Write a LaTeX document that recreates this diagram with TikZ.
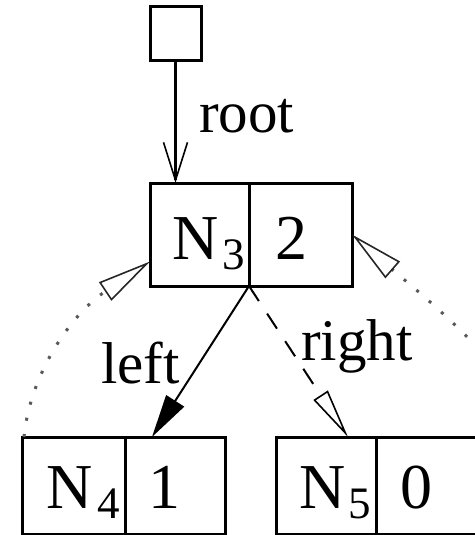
\documentclass[tikz,border=0pt]{standalone}
\usepackage{fontspec}
\setmainfont{Liberation Serif}
\usetikzlibrary{arrows.meta}
\tikzset{
  cell/.style={draw, line width=3pt, inner sep=0pt, outer sep=0pt, minimum height=97pt},
  big/.style={inner sep=0pt, anchor=base west, font=\fontsize{64}{70}\selectfont},
  lab/.style={inner sep=0pt, anchor=base west, font=\fontsize{59}{66}\selectfont},
  sub/.style={inner sep=0pt, anchor=base west, font=\fontsize{45}{50}\selectfont},
  dots/.style={line width=3pt, dash pattern=on 3pt off 13.5pt, black!65},
  opentip/.style={-{Triangle[open, length=54pt, width=22pt, line width=1.6pt, black!85]}},
}
\begin{document}
\begin{tikzpicture}[x=1pt, y=-1pt]
\useasboundingbox (0,0) rectangle (474,535);
% root box
\node[cell, minimum width=51pt, minimum height=54pt] (rootbox) at (175.5,34) {};
% N3 record
\node[cell, minimum width=99pt, minimum height=103pt] (N3l) at (199.5,234.5) {};
\node[cell, minimum width=103pt, minimum height=103pt] (N3r) at (300.5,234.5) {};
% N4 record
\node[cell, minimum width=103pt] (N4l) at (73.5,485.5) {};
\node[cell, minimum width=100pt] (N4r) at (175,485.5) {};
% N5 record
\node[cell, minimum width=100pt] (N5l) at (326,485.5) {};
\node[cell, minimum width=103pt] (N5r) at (427.5,485.5) {};
% texts
\node[big] (t3) at (172,259) {N};
\node[sub] (s3) at (222,269) {3};
\node[big] (v3) at (275,259) {2};
\node[big] (t4) at (46,508) {N};
\node[sub] (s4) at (97,518) {4};
\node[big] (v4) at (148,508) {1};
\node[big] (t5) at (299,508) {N};
\node[sub] (s5) at (348,518) {5};
\node[big] (v5) at (400,508) {0};
% labels
\node[lab] (lroot) at (199,132) {root};
\node[lab] (lleft) at (101,383) {left};
\node[lab] (lright) at (301,360) {right};
% connectors
\draw[line width=3pt, -{Straight Barb[length=38pt, width=24pt, line width=1.6pt]}]
  (rootbox.south) -- (rootbox.south |- N3l.north);
\draw[line width=2pt, -{Triangle[length=43pt, width=21pt]}]
  (N3l.south east) -- ([xshift=27pt]N4r.north west);
\draw[line width=2pt, dash pattern=on 18pt off 15pt, -{Triangle[open, length=50pt, width=17pt, line width=1.6pt]}]
  (N3l.south east) -- ([xshift=72pt]N5l.north west);
\draw[dots, opentip]
  ([xshift=2pt]N4l.north west) .. controls (30,375) and (70,315) .. ([yshift=-27pt]N3l.west);
\coordinate (rstart) at (520,400);
\draw[dots, opentip]
  (rstart) .. controls (480,340) and (410,285) .. (N3r.east);
\end{tikzpicture}
\end{document}
